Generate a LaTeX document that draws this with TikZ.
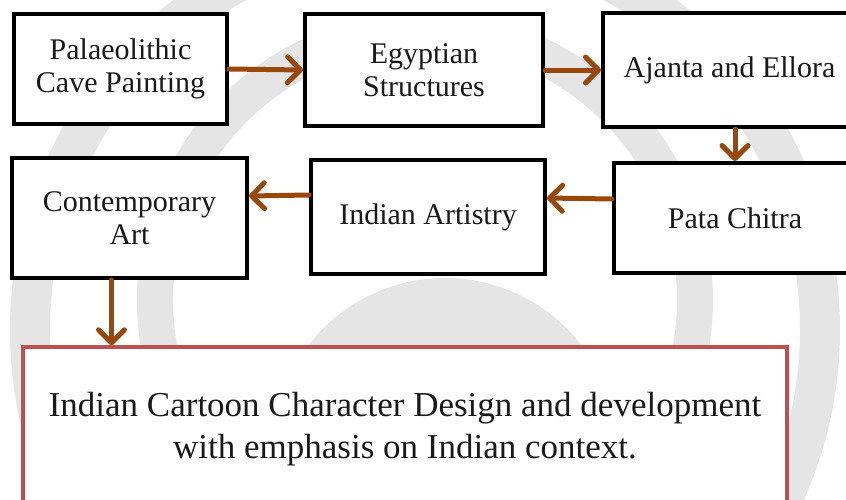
\documentclass[tikz,border=0pt]{standalone}
\usepackage{fontspec}
\setmainfont{Liberation Serif}
\usetikzlibrary{arrows.meta}
\definecolor{arrowbrown}{HTML}{9A480A}
\definecolor{boxred}{HTML}{C0504D}
\definecolor{wmgrey}{HTML}{E5E5E5}
\tikzset{
  stepbox/.style={draw=black, line width=4pt, fill=white, inner sep=0pt, align=center,
    font=\fontsize{30}{33}\selectfont, text=black!90},
  goalbox/.style={draw=boxred, line width=3.5pt, fill=white, inner sep=0pt, align=center,
    font=\fontsize{35}{42}\selectfont, text=black!90},
  flow/.style={draw=arrowbrown, line width=5pt, line cap=round, line join=round,
    -{Straight Barb[length=13pt,width=26pt,line cap=round,line join=round]}},
  wm/.style={draw=wmgrey, line width=#1},
}
\begin{document}
\begin{tikzpicture}[x=1pt,y=-1pt]
\useasboundingbox (0,0) rectangle (846,499);
\begin{scope}
\clip (0,0) rectangle (846,499);
% faint watermark behind the diagram
\fill[wmgrey] (445,450) circle (172);
\draw[wm=40pt] (425,330) circle (395);
\draw[wm=36pt] (425,300) circle (270);
\end{scope}
\begin{scope}
\clip (0,0) rectangle (846,499);
\node[stepbox, minimum width=213pt, minimum height=110pt] (b1) at (120.5,69) {Palaeolithic\\Cave Painting};
\node[stepbox, minimum width=238pt, minimum height=112pt] (b2) at (424,70) {Egyptian\\Structures};
\node[stepbox, minimum width=253pt, minimum height=114pt] (b3) at (729.5,70) {Ajanta and Ellora};
\node[stepbox, minimum width=242pt, minimum height=110pt] (b4) at (735,218) {Pata Chitra};
\node[stepbox, minimum width=234pt, minimum height=114pt] (b5) at (428,217) {Indian Artistry};
\node[stepbox, minimum width=235pt, minimum height=120pt] (b6) at (129.5,218) {Contemporary\\Art};
\node[goalbox, minimum width=764pt, minimum height=164pt] (b7) at (405,429) {Indian Cartoon Character Design and development\\with emphasis on Indian context.};
\end{scope}
\coordinate (a6s) at ([xshift=-18pt]b6.south);
\draw[flow] (b1.east) -- (b2.west);
\draw[flow] (b2.east) -- (b3.west);
\draw[flow] (b4.north |- b3.south) -- (b4.north);
\draw[flow] ([yshift=19pt]b4.west) -- ([yshift=19pt]b5.east);
\draw[flow] ([yshift=22pt]b5.west) -- ([yshift=22pt]b6.east);
\draw[flow] (a6s) -- (a6s |- b7.north);
\end{tikzpicture}
\end{document}
